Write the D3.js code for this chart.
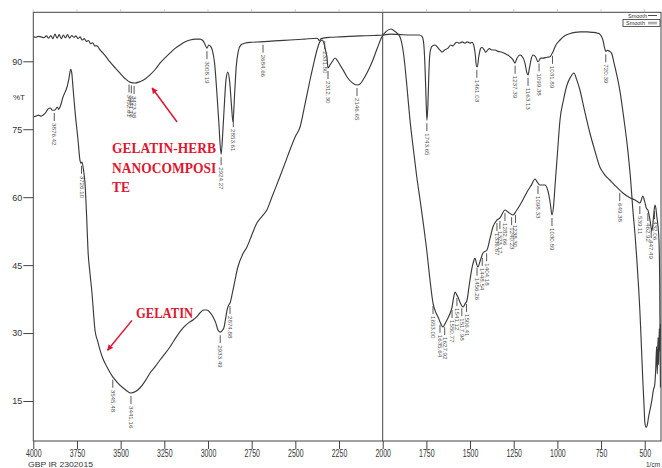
<!DOCTYPE html>
<html>
<head>
<meta charset="utf-8">
<script src="https://cdn.jsdelivr.net/npm/d3@7/dist/d3.min.js"></script>
<style>
html,body{margin:0;padding:0;background:#fff;}
svg{display:block;}
</style>
</head>
<body>
<svg id="chart" width="662" height="468"></svg>
<script>
// ---------- DATA ----------
const xTicks = [4000,3750,3500,3250,3000,2750,2500,2250,2000,1750,1500,1250,1000,750,500];
const yTicks = [90,75,60,45,30,15];

// Gelatin-herb nanocomposite spectrum: [wavenumber, %T]
const herbSpectrum = [
[4000,95.4],[3985,95.3],[3970,95.5],[3955,95.4],[3940,95.2],[3925,95.6],[3912,95.1],[3900,95.7],[3888,95.0],[3876,96.0],[3864,95.1],[3852,95.9],[3840,95.0],[3828,95.8],[3816,95.2],[3804,95.9],[3792,95.1],[3780,95.7],[3768,95.3],[3756,95.6],[3744,95.0],[3732,95.4],[3720,94.7],[3708,95.0],[3696,94.4],[3684,94.6],[3672,93.9],[3660,94.1],[3648,93.4],[3635,93.4],[3618,92.5],[3601,91.8],[3580,90.8],[3561,89.85],[3530,88.5],[3504,87.4],[3475,86.2],[3447,85.4],[3418,85.2],[3390,85.5],[3360,86.1],[3332,87.0],[3300,88.3],[3275,89.6],[3245,90.8],[3218,91.8],[3190,92.8],[3160,93.6],[3130,94.3],[3103,94.7],[3070,94.9],[3046,94.9],[3030,94.6],[3020,94.0],[3006,92.9],[2996,93.6],[2985,93.3],[2975,92.4],[2962,89.5],[2950,83.5],[2938,76.5],[2925,69.5],[2915,74.5],[2908,79.3],[2897,85.9],[2886,87.6],[2876,85.5],[2866,80.5],[2857,76.6],[2848,82.5],[2838,89.0],[2826,92.3],[2812,93.6],[2790,94.0],[2750,94.2],[2700,94.3],[2620,94.5],[2531,94.7],[2450,94.9],[2375,95.1],[2362,94.6],[2352,95.0],[2300,95.3],[2244,95.4],[2130,95.6],[2050,95.7],[1998,95.8],[1958,96.0],[1900,95.9],[1840,95.8],[1790,95.8],[1775,95.5],[1766,94.2],[1758,89],[1752,82],[1747,77.0],[1741,80.5],[1736,87],[1729,92.0],[1720,93.2],[1712,93.5],[1700,93.6],[1690,93.3],[1680,92.8],[1668,92.3],[1660,92.05],[1645,92.5],[1626,92.9],[1610,93.6],[1598,93.4],[1585,94.0],[1575,94.2],[1560,94.0],[1545,94.3],[1530,94.0],[1515,94.3],[1500,94.0],[1489,94.2],[1478,93.4],[1470,91.5],[1463,88.8],[1458,88.8],[1450,91.0],[1440,92.8],[1432,93.1],[1420,92.6],[1410,92.0],[1403,92.3],[1390,92.8],[1375,92.5],[1357,92.5],[1340,92.2],[1317,92.0],[1290,91.5],[1265,90.8],[1254,90.3],[1243,89.6],[1232,90.6],[1214,91.4],[1200,91.0],[1185,89.5],[1175,87.5],[1168,87.0],[1160,88.5],[1150,90.5],[1140,91.4],[1125,91.0],[1111,89.9],[1095,90.7],[1082,90.7],[1060,90.9],[1043,91.0],[1032,91.6],[1026,92.0],[1010,93.5],[985,94.7],[960,95.6],[930,96.1],[900,96.4],[868,96.5],[830,96.5],[800,96.4],[770,96.2],[757,96.0],[748,95.5],[740,94.8],[730,93.0],[723,92.2],[715,92.4],[705,92.3],[690,91.8],[675,89.5],[660,87.0],[643,83.7],[620,77.5],[597,70.4],[580,63.5],[568,57.2],[555,51.5],[545,46.1],[535,40.0],[528,35.1],[520,28.0],[511,19.6],[504,14.0],[499,10.1],[492,9.2],[486,9.6],[478,11.5],[470,13.0],[459,15.2],[450,17.5],[443,18.5],[437,22.0],[432,27.0],[428,21.0],[424,29.0],[420,23.0],[417,31.0],[414,26.0],[410,32.0]
];

// Gelatin spectrum: [wavenumber, %T]
const gelatinSpectrum = [
[4000,77.7],[3985,77.9],[3970,78.1],[3955,77.9],[3944,78.14],[3930,78.6],[3915,79.5],[3903,79.69],[3890,79.2],[3876,79.25],[3862,79.9],[3855,79.4],[3847,79.91],[3838,81.0],[3830,82.12],[3818,83.2],[3807,84.33],[3796,86.2],[3786,88.23],[3780,87.5],[3773,84.33],[3760,78.5],[3744,72.62],[3733,68.2],[3726,67.5],[3721,67.77],[3712,65.8],[3704,63.13],[3695,56.0],[3687,48.33],[3675,43.0],[3664,38.84],[3655,34.3],[3647,30.67],[3630,28.0],[3618,26.25],[3600,24.2],[3578,22.5],[3550,20.6],[3521,19.19],[3480,17.7],[3441,16.76],[3415,17.1],[3390,17.87],[3360,19.4],[3332,21.18],[3300,22.7],[3275,24.05],[3245,25.5],[3218,26.92],[3180,29.2],[3143,31.12],[3110,32.3],[3086,32.88],[3060,33.8],[3046,34.43],[3025,35.1],[3006,35.09],[2990,34.6],[2971,33.54],[2955,32.2],[2943,30.67],[2930,30.2],[2918,30.6],[2908,31.33],[2900,33.0],[2891,35.09],[2880,36.3],[2874,36.63],[2857,39.5],[2829,44.58],[2800,47.5],[2777,49.0],[2750,51.6],[2720,54.3],[2690,55.8],[2663,57.17],[2634,60.04],[2589,64.46],[2560,67.4],[2531,70.42],[2500,73.4],[2473,75.5],[2445,80.5],[2416,85.87],[2395,89.5],[2376,92.49],[2360,94.3],[2347,94.7],[2335,93.8],[2325,92.0],[2319,90.95],[2313,88.52],[2300,89.3],[2290,89.85],[2273,90.73],[2260,90.2],[2244,89.18],[2225,88.0],[2204,86.53],[2175,85.3],[2147,84.77],[2130,85.0],[2113,85.87],[2085,87.8],[2056,90.29],[2030,93.0],[2005,95.37],[1980,96.6],[1953,97.13],[1930,96.6],[1901,95.37],[1880,91.5],[1861,84.33],[1845,77.5],[1826,71.08],[1805,64.5],[1786,59.38],[1765,53.5],[1746,47.67],[1730,42.0],[1712,36.63],[1695,34.5],[1683,33.54],[1670,32.3],[1655,31.33],[1640,32.3],[1626,33.32],[1612,34.6],[1603,35.75],[1595,37.6],[1586,39.06],[1578,38.6],[1569,37.96],[1555,36.6],[1540,35.75],[1528,36.5],[1517,37.3],[1505,40.5],[1489,44.36],[1480,45.8],[1472,46.57],[1464,45.5],[1455,44.58],[1440,46.2],[1426,47.67],[1403,48.33],[1385,51.0],[1369,53.41],[1346,54.96],[1329,55.4],[1300,57.17],[1283,56.73],[1254,56.06],[1235,57.0],[1214,58.27],[1195,59.6],[1174,61.14],[1150,62.6],[1128,64.01],[1115,63.3],[1100,62.69],[1071,62.69],[1055,61.5],[1040,58.5],[1031,56.06],[1022,58.0],[1014,62.25],[1000,69.5],[985,77.04],[965,81.5],[945,84.77],[925,86.5],[905,87.42],[890,86.0],[871,83.66],[845,79.2],[814,74.17],[785,70.2],[757,66.66],[730,65.0],[700,63.79],[660,62.2],[625,60.92],[590,60.0],[556,59.38],[540,59.0],[528,58.71],[520,59.3],[511,60.26],[500,59.0],[490,57.5],[482,57.17],[470,55.0],[459,52.5],[450,55.5],[442,58.27],[436,57.5],[431,55.8],[425,54.0],[418,50.0],[414,40.0],[412,28.0],[410,18.0]
];

// Peak labels: [text, wavenumber]
const herbPeaks = [
["3452.61",3452],["3441.16",3439],["3423.38",3423],["3008.19",3006],["2924.27",2925],["2853.61",2855],
["2684.66",2685],["2331.80",2332],["1743.65",1747],["1461.03",1461],["1237.39",1242],["1163.13",1168],
["1099.38",1105],["1031.89",1028],["720.39",723]
];
const gelatinPeaks = [
["3876.42",3880],["3726.10",3724],["3545.48",3545],["3441.16",3441],["2933.49",2930],["2874.88",2874],
["2312.30",2313],["2146.65",2147],["1653.00",1712],["1635.64",1672],["1627.92",1645],
["1550.77",1603],["1541.12",1575],["1517.98",1547],["1506.41",1520],
["1456.26",1460],["1448.54",1430],["1404.18",1405],["1336.67",1346],
["1323.17",1329],["1282.66",1300],["1240.23",1262],["1238.30",1240],
["1098.33",1111],["1030.89",1031],["649.38",643],["539.11",528],["462.92",482],["447.49",463],["432.06",444]
];

const annotations = [
  {text:["GELATIN-HERB","NANOCOMPOSI","TE"], at:[3549, 69.7], arrowFrom:[3177, 76.6], arrowTo:[3320, 84.1], sx:0.9},
  {text:["GELATIN"], at:[3412, 33.3], arrowFrom:[3435, 32.8], arrowTo:[3575, 26.2], sx:0.84}
];

// ---------- CHART ----------
const svg = d3.select("#chart");
const frame = {left:33.3, right:661, top:12.3, bottom:441};

const x = d3.scaleLinear().domain([4000, 400]).range([33.3, 662.2]);
const y = d3.scaleLinear().domain([90, 15]).range([61.3, 401]);

svg.append("defs").append("clipPath").attr("id","plotclip")
  .append("rect").attr("x",frame.left).attr("y",frame.top)
  .attr("width",frame.right-frame.left).attr("height",frame.bottom-frame.top);

const mk = svg.select("defs").append("marker").attr("id","arr")
  .attr("viewBox","0 0 10 10").attr("refX",9).attr("refY",5)
  .attr("markerWidth",4).attr("markerHeight",4).attr("orient","auto-start-reverse");
mk.append("path").attr("d","M0,0 L10,5 L0,10 z").attr("fill","#e01530");

const line = d3.line().x(d=>x(d[0])).y(d=>y(d[1])).curve(d3.curveMonotoneX);

const plot = svg.append("g").attr("clip-path","url(#plotclip)");
plot.append("path").datum(herbSpectrum).attr("d",line)
  .attr("fill","none").attr("stroke","#3a3a3a").attr("stroke-width",1.15);
plot.append("path").datum(gelatinSpectrum).attr("d",line)
  .attr("fill","none").attr("stroke","#3a3a3a").attr("stroke-width",1.15);

// interpolation for label placement
function valueAt(series, wn){
  for(let i=0;i<series.length-1;i++){
    const a=series[i], b=series[i+1];
    if(wn<=a[0] && wn>=b[0]){
      const t=(a[0]-wn)/(a[0]-b[0]);
      return a[1]+(b[1]-a[1])*t;
    }
  }
  return series[series.length-1][1];
}

function drawPeaks(peaks, series){
  const g = plot.append("g");
  peaks.forEach(p=>{
    const px = x(p[1]);
    const py = y(valueAt(series,p[1]));
    g.append("line").attr("x1",px).attr("x2",px).attr("y1",py+3).attr("y2",py+11)
      .attr("stroke","#444").attr("stroke-width",0.9);
    g.append("text").attr("transform",`translate(${px-2},${py+13}) rotate(90)`)
      .attr("font-family","Liberation Sans, Arial, sans-serif").attr("font-size",6.2)
      .attr("fill","#555").text(p[0]);
  });
}
drawPeaks(herbPeaks, herbSpectrum);
drawPeaks(gelatinPeaks, gelatinSpectrum);

// frame + divider
svg.append("rect").attr("x",frame.left).attr("y",frame.top)
  .attr("width",frame.right-frame.left).attr("height",frame.bottom-frame.top)
  .attr("fill","none").attr("stroke","#444").attr("stroke-width",1);
svg.append("line").attr("x1",x(2000)).attr("x2",x(2000)).attr("y1",frame.top).attr("y2",frame.bottom)
  .attr("stroke","#444").attr("stroke-width",1);

// top faint ticks
svg.append("g").selectAll("line").data(xTicks).join("line")
  .attr("x1",d=>x(d)).attr("x2",d=>x(d)).attr("y1",frame.top-3).attr("y2",frame.top)
  .attr("stroke","#bbb").attr("stroke-width",0.8);

// axes
const xAxis = svg.append("g").attr("transform",`translate(0,${frame.bottom})`)
  .call(d3.axisBottom(x).tickValues(xTicks).tickSize(8).tickPadding(1).tickFormat(d3.format("d")));
xAxis.select(".domain").remove();
xAxis.selectAll("line").attr("stroke","#444");
xAxis.selectAll("text").attr("font-family","Liberation Sans, Arial, sans-serif")
  .attr("font-size",10).attr("fill","#333")
  .attr("transform","scale(0.7,1)");

const yAxis = svg.append("g").attr("transform",`translate(${frame.left},0)`)
  .call(d3.axisLeft(y).tickValues(yTicks).tickSize(10).tickPadding(1).tickFormat(d3.format("d")));
yAxis.select(".domain").remove();
yAxis.selectAll("line").attr("stroke","#444");
yAxis.selectAll("text").attr("font-family","Liberation Sans, Arial, sans-serif")
  .attr("font-size",9).attr("fill","#333");

svg.append("text").attr("x",13).attr("y",100).attr("font-family","Liberation Sans, Arial, sans-serif")
  .attr("font-size",8).attr("fill","#333").text("%T");

svg.append("text").attr("x",28).attr("y",467).attr("font-family","Liberation Sans, Arial, sans-serif")
  .attr("font-size",8).attr("fill","#333").attr("textLength",65).attr("lengthAdjust","spacingAndGlyphs")
  .text("GBP  IR  2302015");
svg.append("text").attr("x",646).attr("y",467).attr("font-family","Liberation Sans, Arial, sans-serif")
  .attr("font-size",6.5).attr("fill","#333").text("1/cm");

// legend
const lg = svg.append("g").attr("font-family","Liberation Sans, Arial, sans-serif").attr("font-size",5.5).attr("fill","#333");
lg.append("text").attr("x",628).attr("y",17.5).text("Smooth");
lg.append("line").attr("x1",648).attr("x2",657).attr("y1",15.5).attr("y2",15.5).attr("stroke","#333").attr("stroke-width",0.9);
lg.append("rect").attr("x",623).attr("y",19.5).attr("width",37).attr("height",7).attr("fill","#fff").attr("stroke","#333").attr("stroke-width",0.8);
lg.append("text").attr("x",626).attr("y",25.3).text("Smooth");
lg.append("line").attr("x1",648).attr("x2",657).attr("y1",22.3).attr("y2",22.3).attr("stroke","#666").attr("stroke-width",0.7);
lg.append("line").attr("x1",648).attr("x2",657).attr("y1",23.8).attr("y2",23.8).attr("stroke","#666").attr("stroke-width",0.7);

// red annotations
annotations.forEach(a=>{
  const tx = x(a.at[0]), ty = y(a.at[1]);
  const t = svg.append("text")
    .attr("transform",`translate(${tx},${ty}) scale(${a.sx},1)`)
    .attr("font-family","Liberation Serif, Times New Roman, serif").attr("font-weight","bold")
    .attr("font-size",15).attr("fill","#e01530");
  a.text.forEach((s,i)=>t.append("tspan").attr("x",0).attr("dy",i===0?0:19.3).text(s));
  svg.append("line").attr("x1",x(a.arrowFrom[0])).attr("y1",y(a.arrowFrom[1]))
    .attr("x2",x(a.arrowTo[0])).attr("y2",y(a.arrowTo[1]))
    .attr("stroke","#e01530").attr("stroke-width",1.5).attr("marker-end","url(#arr)");
});
</script>
</body>
</html>
